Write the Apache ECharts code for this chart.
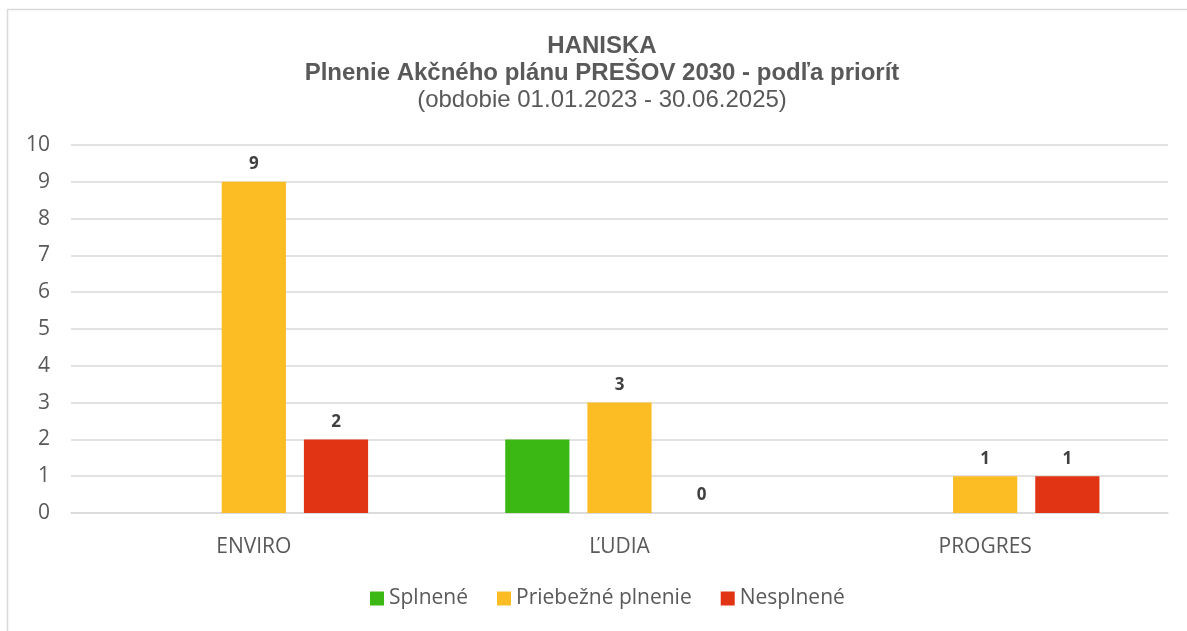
<!DOCTYPE html>
<html>
<head>
<meta charset="utf-8">
<script src="https://cdn.jsdelivr.net/npm/echarts@6/dist/echarts.min.js"></script>
<style>
  html, body { margin: 0; padding: 0; background: #fff; }
  #chart { width: 1187px; height: 631px; }
</style>
</head>
<body>
<div id="chart"></div>
<script>
// data
const categories = ['ENVIRO', 'ĽUDIA', 'PROGRES'];
const splnene = [0, 2, 0];
const priebezne = [9, 3, 1];
const nesplnene = [2, 0, 1];
const yTicks = [0, 1, 2, 3, 4, 5, 6, 7, 8, 9, 10];

const grey = '#595959';
const axisFont = '"Open Sans", Lato, sans-serif';
const titleFont = '"Liberation Sans", Arial, sans-serif';

const labelStyle = {
    show: true,
    position: 'top',
    distance: 9,
    color: '#404040',
    fontFamily: axisFont,
    fontWeight: 'bold',
    fontSize: 17
};

const chart = echarts.init(document.getElementById('chart'));
chart.setOption({
    backgroundColor: '#fff',
    animation: false,
    graphic: [
        // chart frame, cut at the right and bottom edge like the reference
        {type: 'polyline', shape: {points: [[7.5, 631], [7.5, 9.5], [1187, 9.5]]},
         style: {stroke: '#d9d9d9', lineWidth: 1.5, fill: null}}
    ],
    title: {
        text: '{a|HANISKA}\n{b|Plnenie Akčného plánu PREŠOV 2030 - podľa priorít}\n{c|(obdobie 01.01.2023 - 30.06.2025)}',
        left: 597,
        top: 28,
        textAlign: 'center',
        textStyle: {
            fontWeight: 'normal',
            rich: {
                a: {fontFamily: titleFont, fontSize: 24, fontWeight: 'bold', color: grey, lineHeight: 27},
                b: {fontFamily: titleFont, fontSize: 24, fontWeight: 'bold', color: grey, lineHeight: 27},
                c: {fontFamily: titleFont, fontSize: 24, fontWeight: 'normal', color: grey, lineHeight: 27}
            }
        }
    },
    legend: {
        bottom: 17,
        left: 365,
        itemWidth: 14,
        itemHeight: 14,
        itemGap: 29,
        icon: 'rect',
        textStyle: {fontFamily: axisFont, fontSize: 21, color: grey},
        data: ['Splnené', 'Priebežné plnenie', 'Nesplnené']
    },
    grid: {left: 71, right: 19, top: 145, bottom: 118},
    xAxis: {
        type: 'category',
        data: categories,
        axisLine: {lineStyle: {color: '#d9d9d9', width: 1.5}},
        axisTick: {show: false},
        axisLabel: {fontFamily: axisFont, fontSize: 21, color: grey, margin: 24}
    },
    yAxis: {
        type: 'value',
        min: yTicks[0],
        max: yTicks[yTicks.length - 1],
        interval: 1,
        axisLine: {show: false},
        axisTick: {show: false},
        splitLine: {lineStyle: {color: '#d9d9d9', width: 1.5}},
        axisLabel: {fontFamily: axisFont, fontSize: 21, color: grey, margin: 21}
    },
    series: [
        {name: 'Splnené', type: 'bar', data: splnene, itemStyle: {color: '#3cb815'},
         barGap: '28%', barCategoryGap: '37.5%'},
        {name: 'Priebežné plnenie', type: 'bar', data: priebezne, itemStyle: {color: '#fbbc24'},
         label: labelStyle},
        {name: 'Nesplnené', type: 'bar', data: nesplnene, itemStyle: {color: '#e03414'},
         label: labelStyle}
    ]
});
</script>
</body>
</html>
